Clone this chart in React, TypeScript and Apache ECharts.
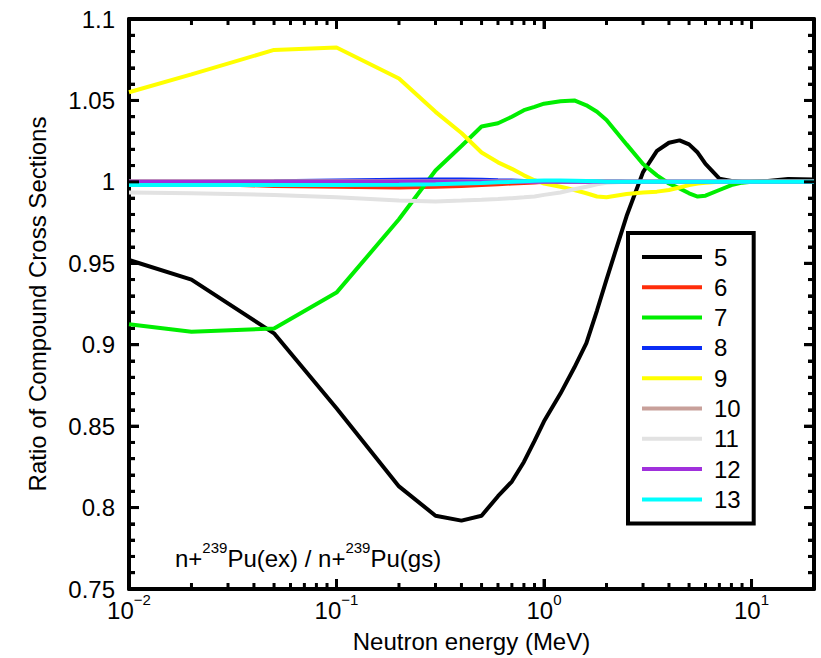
import React, { useEffect, useRef } from "react";
import * as echarts from "echarts";

const energies = [0.01, 0.02, 0.05, 0.1, 0.2, 0.3, 0.4, 0.5, 0.6, 0.7, 0.8, 0.9, 1, 1.2, 1.4, 1.6, 1.8, 2, 2.5, 3, 3.5, 4, 4.5, 5, 5.5, 6, 7, 8, 9, 10, 12, 15, 20];

const ratio5 = [0.952, 0.94, 0.907, 0.861, 0.813, 0.795, 0.792, 0.795, 0.807, 0.816, 0.828, 0.841, 0.853, 0.87, 0.886, 0.901, 0.921, 0.94, 0.979, 1.006, 1.019, 1.024, 1.0255, 1.023, 1.018, 1.011, 1.002, 1.0005, 1.0, 1.0, 1.0005, 1.0018, 1.0015];
const ratio6 = [0.9995, 0.999, 0.9975, 0.997, 0.9965, 0.997, 0.9975, 0.998, 0.9985, 0.999, 0.9993, 0.9996, 1, 1, 1, 1, 1, 1, 1, 1, 1, 1, 1, 1, 1, 1, 1, 1, 1, 1, 1, 1, 1];
const ratio7 = [0.9125, 0.908, 0.91, 0.932, 0.977, 1.007, 1.022, 1.034, 1.036, 1.04, 1.044, 1.046, 1.048, 1.0495, 1.05, 1.047, 1.043, 1.038, 1.023, 1.011, 1.004, 0.999, 0.996, 0.993, 0.991, 0.9915, 0.995, 0.998, 0.9995, 1, 1, 1, 1];
const ratio8 = [1.0, 1.0, 1.0003, 1.0008, 1.0013, 1.0015, 1.0015, 1.0013, 1.001, 1.0008, 1.0006, 1.0004, 1.0003, 1.0001, 1, 1, 1, 1, 1, 1, 1, 1, 1, 1, 1, 1, 1, 1, 1, 1, 1, 1, 1];
const ratio9 = [1.055, 1.066, 1.081, 1.0825, 1.0635, 1.043, 1.03, 1.018, 1.012, 1.008, 1.004, 1.001, 0.999, 0.997, 0.995, 0.993, 0.991, 0.9905, 0.9925, 0.9935, 0.994, 0.995, 0.9965, 0.998, 0.999, 0.9995, 1, 1, 1, 1, 1, 1, 1];
const ratio10 = [1.0004, 1.0004, 1.0004, 1.0004, 1.0004, 1.0004, 1.0004, 1.0004, 1.0003, 1.0003, 1.0002, 1.0001, 1, 1, 1, 1, 1, 1, 1, 1, 1, 1, 1, 1, 1, 1, 1, 1, 1, 1, 1, 1, 1];
const ratio11 = [0.9935, 0.993, 0.992, 0.9905, 0.9885, 0.988, 0.9885, 0.989, 0.9895, 0.99, 0.9905, 0.991, 0.992, 0.9935, 0.9955, 0.997, 0.9985, 0.9995, 1, 1, 1, 1, 1, 1, 1, 1, 1, 1, 1, 1, 1, 1, 1];
const ratio12 = [1, 1, 1, 1, 1, 1, 1, 1, 1, 1, 1, 1, 1, 1, 1, 1, 1, 1, 1, 1, 1, 1, 1, 1, 1, 1, 1, 1, 1, 1, 1, 1, 1];
const ratio13 = [0.998, 0.998, 0.998, 0.998, 0.9983, 0.9986, 0.999, 0.9993, 0.9997, 1.0, 1.0004, 1.0007, 1.0008, 1.0008, 1.0007, 1.0005, 1.0003, 1.0001, 1, 1, 1, 1, 1, 1, 1, 1, 1, 1, 1, 1, 1, 1, 1];

const seriesNames = ["5", "6", "7", "8", "9", "10", "11", "12", "13"];
const seriesValues = [ratio5, ratio6, ratio7, ratio8, ratio9, ratio10, ratio11, ratio12, ratio13];
const seriesColors = ["#000000", "#ff2d0a", "#00ee00", "#0a2df5", "#ffff00", "#c8a09a", "#e2e2e2", "#a030dc", "#00ffff"];

const xMin = 0.01;
const xMax = 20;
const yMin = 0.75;
const yMax = 1.1;
const yInterval = 0.05;
const yMinorStep = 0.01;
const xMajorTicks = [0.01, 0.1, 1, 10];
const xMinorMultipliers = [2, 3, 4, 5, 6, 7, 8, 9];

const xTitle = "Neutron energy (MeV)";
const yTitle = "Ratio of Compound Cross Sections";

const FONT = "'Liberation Sans', Arial, Helvetica, sans-serif";
const FS = 24;
const MAJOR_LEN = 10;
const MINOR_LEN = 6;

export default function App() {
  const ref = useRef<HTMLDivElement>(null);
  useEffect(() => {
    if (!ref.current) return;
    const chart = echarts.init(ref.current, null, { renderer: "svg" });

    // tick descriptors: [x, y, dirX, dirY, length]
    const ticks: number[][] = [];
    xMajorTicks.forEach((d) => {
      ticks.push([d, yMin, 0, -1, MAJOR_LEN]);
      ticks.push([d, yMax, 0, 1, MAJOR_LEN]);
      xMinorMultipliers.forEach((m) => {
        const v = d * m;
        if (v < xMax) {
          ticks.push([v, yMin, 0, -1, MINOR_LEN]);
          ticks.push([v, yMax, 0, 1, MINOR_LEN]);
        }
      });
    });
    const nY = Math.round((yMax - yMin) / yMinorStep);
    for (let k = 0; k <= nY; k++) {
      const v = yMin + k * yMinorStep;
      const len = k % 5 === 0 ? MAJOR_LEN : MINOR_LEN;
      ticks.push([xMin, v, 1, 0, len]);
      ticks.push([xMax, v, -1, 0, len]);
    }

    const mkLine = () => ({ show: true, onZero: false, lineStyle: { color: "black", width: 4 } });
    const mkTick = () => ({ show: true, inside: true, length: MAJOR_LEN, lineStyle: { color: "black", width: 3 } });
    const mkMinor = () => ({ show: true, splitNumber: 5, length: MINOR_LEN, lineStyle: { color: "black", width: 3 } });
    const option: any = {
      animation: false,
      grid: { left: 129, right: 7, top: 19, bottom: 67 },
      legend: {
        orient: "vertical",
        left: 628,
        top: 233,
        data: seriesNames,
        icon: "rect",
        itemWidth: 60,
        itemHeight: 4,
        itemGap: 0.3,
        padding: [9, 13, 9, 14],
        borderColor: "black",
        borderWidth: 4,
        textStyle: { fontSize: FS, color: "#000", fontFamily: FONT, lineHeight: 30, padding: [0, 0, 0, 7] },
      },
      xAxis: [
        {
          type: "log",
          min: xMin,
          max: xMax,
          position: "bottom",
          name: xTitle,
          nameLocation: "middle",
          nameGap: 40,
          nameTextStyle: { fontSize: FS, color: "#000", fontFamily: FONT },
          axisLine: mkLine(),
          axisTick: mkTick(),
          splitLine: { show: false },
          axisLabel: {
            show: true,
            margin: 3,
            showMaxLabel: false,
            formatter: (v: number) => {
              const e = Math.round(Math.log10(v));
              return "{b|10}{s|" + (e < 0 ? "\u2212" + Math.abs(e) : String(e)) + "}";
            },
            rich: {
              b: { fontSize: FS, lineHeight: 36, color: "#000", fontFamily: FONT },
              s: { fontSize: 15, lineHeight: 15, verticalAlign: "top", color: "#000", fontFamily: FONT },
            },
          },
        },
        {
          type: "log",
          min: xMin,
          max: xMax,
          position: "top",
          axisLine: mkLine(),
          axisTick: mkTick(),
          axisLabel: { show: false },
          splitLine: { show: false },
        },
      ],
      yAxis: [
        {
          type: "value",
          min: yMin,
          max: yMax,
          interval: yInterval,
          position: "left",
          name: yTitle,
          nameLocation: "middle",
          nameGap: 80,
          nameTextStyle: { fontSize: FS, color: "#000", fontFamily: FONT },
          axisLine: mkLine(),
          axisTick: mkTick(),
          minorTick: mkMinor(),
          splitLine: { show: false },
          axisLabel: { fontSize: FS, color: "#000", margin: 14, fontFamily: FONT },
        },
        {
          type: "value",
          min: yMin,
          max: yMax,
          interval: yInterval,
          position: "right",
          axisLine: mkLine(),
          axisTick: mkTick(),
          minorTick: mkMinor(),
          splitLine: { show: false },
          axisLabel: { show: false },
        },
      ],
      graphic: [
        {
          id: "annot",
          type: "text",
          left: 175,
          top: 540,
          style: {
            text: "{b|n+}{s|239}{b|Pu(ex) / n+}{s|239}{b|Pu(gs)}",
            rich: {
              b: { fontSize: 24, lineHeight: 36, fill: "#000", fontFamily: FONT },
              s: { fontSize: 15, lineHeight: 15, verticalAlign: "top", fill: "#000", fontFamily: FONT },
            },
          },
        },
      ],
      series: [
        ...seriesNames.map((name, i) => ({
          name,
          type: "line",
          showSymbol: false,
          symbol: "none",
          color: seriesColors[i],
          lineStyle: { width: 4, color: seriesColors[i] },
          data: energies.map((e, j) => [e, seriesValues[i][j]]),
        })),
        {
          name: "ticks",
          type: "custom",
          silent: true,
          clip: false,
          z: 10,
          dimensions: ["x", "y", "dx", "dy", "len"],
          encode: { x: 0, y: 1 },
          data: ticks,
          renderItem: (params: any, api: any) => {
            const p = api.coord([api.value(0), api.value(1)]);
            const dx = api.value(2);
            const dy = api.value(3);
            const len = api.value(4);
            return {
              type: "line",
              shape: { x1: p[0], y1: p[1], x2: p[0] + dx * len, y2: p[1] + dy * len },
              style: { stroke: "black", lineWidth: 3 },
            };
          },
        },
      ],
    };
    chart.setOption(option);
    return () => chart.dispose();
  }, []);
  return <div ref={ref} style={{ position: "fixed", left: 0, top: 0, width: 821, height: 658, background: "#fff" }} />;
}
